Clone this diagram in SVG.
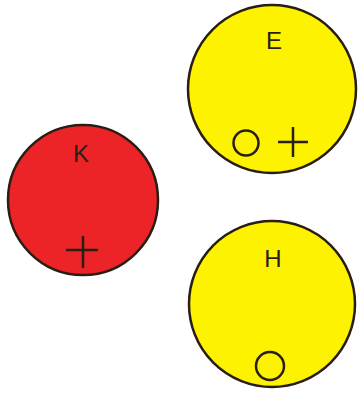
<svg xmlns="http://www.w3.org/2000/svg" width="358" height="401" viewBox="0 0 358 401">
<style>
.bg{fill:#ffffff}
.node{stroke:#2a1e14;stroke-width:2.5}
.yellow{fill:#fdf200}
.red{fill:#ec2327}
.lbl{font-family:"Liberation Sans",Arial,sans-serif;font-size:24px;fill:#2a1e14;text-anchor:middle}
.sym{fill:none;stroke:#2a1e14;stroke-width:2.5}
</style>
<rect class="bg" x="0" y="0" width="358" height="401"/>
<g id="E">
<circle class="node yellow" cx="272" cy="89" r="84"/>
<text class="lbl" x="274" y="49">E</text>
<circle class="sym" cx="246" cy="143" r="12.5"/>
<path class="sym" d="M278 142H308M293 127V157"/>
</g>
<g id="K">
<circle class="node red" cx="83" cy="200" r="75"/>
<text class="lbl" x="81" y="162">K</text>
<path class="sym" d="M66 250H98M83 236V268"/>
</g>
<g id="H">
<circle class="node yellow" cx="272" cy="304" r="83"/>
<text class="lbl" x="273" y="267">H</text>
<circle class="sym" cx="270" cy="366" r="14"/>
</g>
<g id="connectors"/>
</svg>
